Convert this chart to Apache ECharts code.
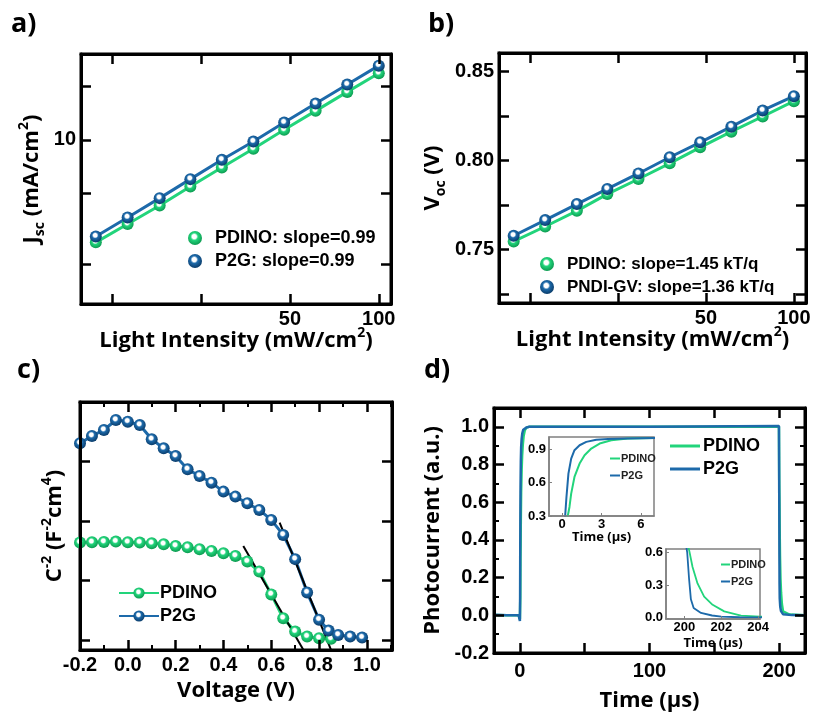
<!DOCTYPE html>
<html>
<head>
<meta charset="utf-8">
<script src="https://cdn.jsdelivr.net/npm/echarts@6/dist/echarts.min.js"></script>
<style>
html, body { margin: 0; padding: 0; background: #fff; }
#chart { width: 814px; height: 713px; }
</style>
</head>
<body>
<div id="chart"></div>
<script>
// a) / b) light intensity dependence
var lightIntensity = [11.0, 14.1, 18.1, 23.0, 29.4, 37.6, 47.8, 61.1, 78.2, 100];
var jscPdino = [2.66, 3.37, 4.28, 5.47, 7.00, 8.91, 11.38, 14.54, 18.57, 23.64];
var jscP2g   = [2.87, 3.67, 4.71, 6.02, 7.73, 9.78, 12.50, 15.97, 20.42, 26.07];
var vocPdino = [0.7546, 0.7630, 0.7718, 0.7812, 0.7897, 0.7985, 0.8075, 0.8163, 0.8248, 0.8334];
var vocP2g   = [0.7578, 0.7666, 0.7756, 0.7841, 0.7928, 0.8019, 0.8103, 0.8191, 0.8282, 0.8362];

// c) Mott-Schottky (arbitrary units, no tick labels)
var voltPdino = [-0.2, -0.15, -0.1, -0.05, 0, 0.05, 0.1, 0.15, 0.2, 0.25, 0.3, 0.35, 0.4, 0.45, 0.5, 0.55, 0.6, 0.65, 0.7, 0.75, 0.8, 0.85];
var c2Pdino   = [1.636, 1.641, 1.647, 1.653, 1.641, 1.636, 1.625, 1.608, 1.580, 1.557, 1.524, 1.496, 1.457, 1.412, 1.317, 1.148, 0.765, 0.364, 0.140, 0.056, 0.028, 0.018];
var voltP2g   = [-0.2, -0.15, -0.1, -0.05, 0, 0.05, 0.1, 0.15, 0.2, 0.25, 0.3, 0.35, 0.4, 0.45, 0.5, 0.55, 0.6, 0.65, 0.7, 0.75, 0.8, 0.84, 0.88, 0.93, 0.98];
var c2P2g     = [3.305, 3.429, 3.529, 3.697, 3.669, 3.613, 3.373, 3.221, 3.092, 2.868, 2.756, 2.644, 2.493, 2.409, 2.297, 2.185, 2.017, 1.765, 1.358, 0.796, 0.340, 0.157, 0.084, 0.056, 0.039];
var fitPdino  = [[0.483, 1.58], [0.744, -0.235]];
var fitP2g    = [[0.635, 1.972], [0.85, -0.168]];

// d) transient photocurrent
var timePdino    = [-20, -10, -1, -0.2, 0, 0.3, 0.43, 0.56, 0.69, 0.94, 1.33, 1.71, 2.22, 2.86, 3.75, 5, 7.1, 20, 100, 199.9, 200.1, 200.26, 200.44, 200.71, 201.07, 201.53, 202.16, 203.07, 204.1, 208, 220];
var currentPdino = [0.002, 0, 0, -0.005, -0.02, 0.1, 0.3, 0.381, 0.501, 0.651, 0.771, 0.846, 0.906, 0.951, 0.981, 0.996, 1.0, 1.0, 1.0, 1.0, 0.72, 0.615, 0.465, 0.315, 0.195, 0.12, 0.06, 0.021, 0.012, 0.004, 0.0];
var timeP2g      = [-20, -10, -1, -0.2, 0, 0.15, 0.23, 0.33, 0.48, 0.69, 0.94, 1.33, 1.84, 2.6, 3.5, 5, 7.1, 20, 100, 199.9, 200.1, 200.15, 200.25, 200.35, 200.5, 200.9, 201.5, 202, 203, 204.1, 210, 220];
var currentP2g   = [0.003, 0, 0, -0.01, -0.03, 0.1, 0.3, 0.471, 0.681, 0.816, 0.891, 0.936, 0.966, 0.985, 0.993, 0.997, 1.0, 1.0, 1.0, 1.005, 0.65, 0.6, 0.36, 0.17, 0.09, 0.045, 0.022, 0.012, 0.006, 0.004, 0.001, 0.0];

function zip(xs, ys) {
  return xs.map(function (x, i) { return [x, ys[i]]; });
}

var GREEN = '#22d47b', GREEN_DARK = '#0c9a50';
var BLUE = '#1d6aaa', BLUE_DARK = '#0a3c6a';
var ARIAL = '"Liberation Sans", Arial, sans-serif';
var TITLE = '"Open Sans", sans-serif';

function ball(c, dark) {
  return {
    type: 'radial', x: 0.45, y: 0.4, r: 0.6,
    colorStops: [
      { offset: 0, color: '#ffffff' },
      { offset: 0.25, color: '#ffffff' },
      { offset: 0.45, color: c },
      { offset: 1, color: dark }
    ]
  };
}

var richName = {
  b: { fontSize: 22, fontWeight: 'bold', fontFamily: TITLE, lineHeight: 30, color: '#000' },
  sup: { fontSize: 14, fontWeight: 'bold', fontFamily: TITLE, lineHeight: 14, verticalAlign: 'top', color: '#000' },
  sub: { fontSize: 14, fontWeight: 'bold', fontFamily: TITLE, lineHeight: 14, verticalAlign: 'bottom', color: '#000' }
};

// one framed axis; mirror = copy on the opposite side without labels
function axis(o) {
  var col = o.color || '#000';
  var ax = {
    type: o.type || 'value',
    gridIndex: o.grid,
    position: o.pos,
    min: o.min,
    max: o.max,
    z: 10,
    nameMoveOverlap: false,
    axisLine: { show: true, onZero: false, lineStyle: { color: col, width: o.lineWidth || 3 } },
    splitLine: { show: false },
    axisTick: { show: true, inside: true, length: o.tickLen || 10, lineStyle: { color: col, width: o.tickWidth || 2.5 } },
    axisLabel: {
      show: !o.mirror, margin: o.margin || 5, color: '#000',
      fontFamily: ARIAL, fontWeight: 'bold', fontSize: o.fontSize || 20
    }
  };
  if (o.interval) ax.interval = o.interval;
  if (o.labels) ax.axisLabel.customValues = o.labels;
  if (o.ticks) ax.axisTick.customValues = o.ticks;
  if (o.fmt) ax.axisLabel.formatter = o.fmt;
  if (o.minor) ax.minorTick = { show: true, splitNumber: o.minor, length: 5, lineStyle: { color: col, width: 2 } };
  if (o.name && !o.mirror) {
    ax.name = o.name;
    ax.nameLocation = 'middle';
    ax.nameGap = o.nameGap;
    ax.nameTextStyle = o.nameStyle || { rich: richName };
  }
  return ax;
}

function mirror(o, pos) {
  var c = Object.assign({}, o, { pos: pos, mirror: true });
  return axis(c);
}

var fmt2 = function (v) { return v.toFixed(2); };
// labels above 1.05 (the axis max) stay blank
var fmt1 = function (v) { return v > 1.05 ? '' : v.toFixed(1); };

var axA_x = { grid: 0, pos: 'bottom', type: 'log', min: 9.8, max: 110, labels: [50, 100], ticks: [12.5, 25, 50, 100],
  name: '{b|Light Intensity (mW/cm}{sup|2}{b|)}', nameGap: 22 };
var axA_y = { grid: 0, pos: 'left', type: 'log', min: 1.2, max: 30.3, labels: [10], ticks: [2, 5, 10, 20],
  name: '{b|J}{sub|sc}{b| (mA/cm}{sup|2}{b|)}', nameGap: 34 };
var axB_x = { grid: 1, pos: 'bottom', type: 'log', min: 9.8, max: 110, labels: [50, 100], ticks: [12.5, 25, 50, 100],
  name: '{b|Light Intensity (mW/cm}{sup|2}{b|)}', nameGap: 22 };
var axB_y = { grid: 1, pos: 'left', min: 0.72, max: 0.8605, labels: [0.75, 0.80, 0.85], ticks: [0.725, 0.75, 0.775, 0.8, 0.825, 0.85], fmt: fmt2,
  name: '{b|V}{sub|oc}{b| (V)}', nameGap: 51 };
var axC_x = { grid: 2, pos: 'bottom', min: -0.2, max: 1.105, interval: 0.2, minor: 2, fmt: fmt1,
  name: '{b|Voltage (V)}', nameGap: 26 };
var axC_y = { grid: 2, pos: 'left', min: -0.17, max: 4.0, ticks: [0, 1, 2, 3], labels: [0, 1, 2, 3], fmt: function () { return ''; },
  name: '{b|C}{sup|-2}{b| (F}{sup|-2}{b|cm}{sup|4}{b|)}', nameGap: 10 };
var axD_x = { grid: 3, pos: 'bottom', min: -20, max: 220, labels: [0, 100, 200], ticks: [0, 50, 100, 150, 200], margin: 8,
  name: '{b|Time (µs)}', nameGap: 33 };
var axD_y = { grid: 3, pos: 'left', min: -0.2, max: 1.1, interval: 0.2, minor: 2, fmt: fmt1,
  name: '{b|Photocurrent (a.u.)}', nameGap: 46 };

var insetName = { fontSize: 13, fontWeight: 'bold', fontFamily: TITLE, color: '#000' };
var insetAxis = { fontSize: 13, margin: 3, tickLen: 3, tickWidth: 1, lineWidth: 1.5, color: '#808080' };
var axI1_x = Object.assign({ grid: 4, pos: 'bottom', min: -1, max: 7, labels: [0, 3, 6], ticks: [0, 3, 6],
  name: 'Time (µs)', nameGap: 15, nameStyle: insetName }, insetAxis, { margin: 2 });
var axI1_y = Object.assign({ grid: 4, pos: 'left', min: 0.3, max: 1.01, labels: [0.3, 0.6, 0.9], ticks: [0.3, 0.6, 0.9], fmt: fmt1 }, insetAxis);
var axI2_x = Object.assign({ grid: 5, pos: 'bottom', min: 199, max: 204.1, labels: [200, 202, 204], ticks: [200, 202, 204],
  name: 'Time (µs)', nameGap: 18, nameStyle: insetName }, insetAxis, { margin: 2 });
var axI2_y = Object.assign({ grid: 5, pos: 'left', min: -0.01, max: 0.63, labels: [0, 0.3, 0.6], ticks: [0, 0.3, 0.6], fmt: fmt1 }, insetAxis);

var frame = { show: true, borderColor: '#000', borderWidth: 3 };

function markerSeries(name, x, y, data, color, dark, size) {
  return {
    name: name, type: 'line', xAxisIndex: x, yAxisIndex: y, data: data,
    symbol: 'circle', symbolSize: size || 12, showSymbol: true,
    lineStyle: { color: color, width: 3 },
    itemStyle: { color: ball(color, dark), borderWidth: 0 }
  };
}

function traceSeries(name, x, y, data, color, width) {
  return {
    name: name, type: 'line', xAxisIndex: x, yAxisIndex: y, data: data,
    symbol: 'none', clip: true,
    lineStyle: { color: color, width: width },
    itemStyle: { color: color }
  };
}

var stripPrefix = function (n) { return n.replace(/^\w+\|/, ''); };

var option = {
  animation: false,
  grid: [
    Object.assign({ left: 81, top: 54, width: 310, height: 250 }, frame),
    Object.assign({ left: 499, top: 53, width: 307, height: 250 }, frame),
    Object.assign({ left: 80, top: 402, width: 312, height: 248 }, frame),
    Object.assign({ left: 494, top: 408, width: 311, height: 249 }, frame),
    { left: 549, top: 437, width: 105, height: 79, show: true, borderColor: '#808080', borderWidth: 1.5, backgroundColor: '#fff' },
    { left: 666, top: 549, width: 94, height: 70, show: true, borderColor: '#808080', borderWidth: 1.5, backgroundColor: '#fff' }
  ],
  xAxis: [
    axis(axA_x), mirror(axA_x, 'top'),
    axis(axB_x), mirror(axB_x, 'top'),
    axis(axC_x), mirror(axC_x, 'top'),
    axis(axD_x), mirror(axD_x, 'top'),
    axis(axI1_x), axis(axI2_x)
  ],
  yAxis: [
    axis(axA_y), mirror(axA_y, 'right'),
    axis(axB_y), mirror(axB_y, 'right'),
    axis(axC_y), mirror(axC_y, 'right'),
    axis(axD_y), mirror(axD_y, 'right'),
    axis(axI1_y), axis(axI2_y)
  ],
  legend: [
    { left: 183, top: 223, orient: 'vertical', icon: 'circle', itemWidth: 14, itemHeight: 14, itemGap: 3, selectedMode: false,
      formatter: stripPrefix, data: ['a|PDINO: slope=0.99', 'a|P2G: slope=0.99'],
      textStyle: { fontFamily: ARIAL, fontWeight: 'bold', fontSize: 18, lineHeight: 20, color: '#000', padding: [0, 0, 0, 8] } },
    { left: 535, top: 249, orient: 'vertical', icon: 'circle', itemWidth: 14, itemHeight: 14, itemGap: 3, selectedMode: false,
      formatter: stripPrefix, data: ['b|PDINO: slope=1.45 kT/q', 'b|PNDI-GV: slope=1.36 kT/q'],
      textStyle: { fontFamily: ARIAL, fontWeight: 'bold', fontSize: 17, lineHeight: 20, color: '#000', padding: [0, 0, 0, 8] } },
    { left: 113, top: 578, orient: 'vertical', itemWidth: 40, itemHeight: 14, itemGap: 3, selectedMode: false,
      formatter: stripPrefix, data: ['c|PDINO', 'c|P2G'],
      textStyle: { fontFamily: ARIAL, fontWeight: 'bold', fontSize: 18, lineHeight: 20, color: '#000', padding: [0, 0, 0, -4] } },
    { left: 665, top: 431, orient: 'vertical', icon: 'rect', itemWidth: 30, itemHeight: 3, itemGap: 3, selectedMode: false,
      formatter: stripPrefix, data: ['d|PDINO', 'd|P2G'],
      textStyle: { fontFamily: '"Liberation Sans Narrow", ' + ARIAL, fontWeight: 'bold', fontSize: 18, lineHeight: 20, color: '#000', padding: [0, 0, 0, -2] } },
    { left: 605, top: 447, orient: 'vertical', icon: 'rect', itemWidth: 10, itemHeight: 2, itemGap: 4, selectedMode: false,
      formatter: stripPrefix, data: ['i1|PDINO', 'i1|P2G'],
      textStyle: { fontFamily: ARIAL, fontWeight: 'bold', fontSize: 11, lineHeight: 13, color: '#222', padding: [0, 0, 0, -4] } },
    { left: 716, top: 553, orient: 'vertical', icon: 'rect', itemWidth: 9, itemHeight: 2, itemGap: 4, selectedMode: false,
      formatter: stripPrefix, data: ['i2|PDINO', 'i2|P2G'],
      textStyle: { fontFamily: ARIAL, fontWeight: 'bold', fontSize: 11, lineHeight: 13, color: '#222', padding: [0, 0, 0, -4] } }
  ],
  graphic: [
    { type: 'text', left: 11, top: 11, style: { text: 'a)', fontSize: 27, fontWeight: 'bold', fontFamily: TITLE, fill: '#000' } },
    { type: 'text', left: 428, top: 11, style: { text: 'b)', fontSize: 27, fontWeight: 'bold', fontFamily: TITLE, fill: '#000' } },
    { type: 'text', left: 17, top: 357, style: { text: 'c)', fontSize: 27, fontWeight: 'bold', fontFamily: TITLE, fill: '#000' } },
    { type: 'text', left: 424, top: 357, style: { text: 'd)', fontSize: 27, fontWeight: 'bold', fontFamily: TITLE, fill: '#000' } }
  ],
  series: [
    markerSeries('a|PDINO: slope=0.99', 0, 0, zip(lightIntensity, jscPdino), GREEN, GREEN_DARK),
    markerSeries('a|P2G: slope=0.99', 0, 0, zip(lightIntensity, jscP2g), BLUE, BLUE_DARK),
    markerSeries('b|PDINO: slope=1.45 kT/q', 2, 2, zip(lightIntensity, vocPdino), GREEN, GREEN_DARK),
    markerSeries('b|PNDI-GV: slope=1.36 kT/q', 2, 2, zip(lightIntensity, vocP2g), BLUE, BLUE_DARK),
    markerSeries('c|PDINO', 4, 4, zip(voltPdino, c2Pdino), GREEN, GREEN_DARK),
    markerSeries('c|P2G', 4, 4, zip(voltP2g, c2P2g), BLUE, BLUE_DARK),
    traceSeries('c|fit1', 4, 4, fitPdino, '#000', 2),
    traceSeries('c|fit2', 4, 4, fitP2g, '#000', 2),
    traceSeries('d|PDINO', 6, 6, zip(timePdino, currentPdino), GREEN, 2.5),
    traceSeries('d|P2G', 6, 6, zip(timeP2g, currentP2g), BLUE, 2.5),
    traceSeries('i1|PDINO', 8, 8, zip(timePdino, currentPdino), GREEN, 2),
    traceSeries('i1|P2G', 8, 8, zip(timeP2g, currentP2g), BLUE, 2),
    traceSeries('i2|PDINO', 9, 9, zip(timePdino, currentPdino), GREEN, 1.8),
    traceSeries('i2|P2G', 9, 9, zip(timeP2g, currentP2g), BLUE, 1.8)
  ]
};

var myChart = echarts.init(document.getElementById('chart'));
myChart.setOption(option);
window.addEventListener('resize', function () { myChart.resize(); });
</script>
</body>
</html>
